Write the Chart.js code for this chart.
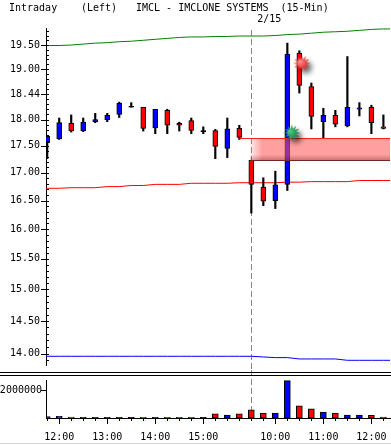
<!DOCTYPE html>
<html>
<head>
<meta charset="utf-8">
<script src="https://cdn.jsdelivr.net/npm/chart.js@4.4.0/dist/chart.umd.min.js"></script>
<style>
  body { margin: 0; background: #fff; }
  #wrap { position: relative; width: 391px; height: 445px; overflow: hidden; }
  #price { position: absolute; left: 0; top: 0; }
  #vol { position: absolute; left: 0; top: 370px; }
</style>
</head>
<body>
<div id="wrap">
  <canvas id="price" width="391" height="370"></canvas>
  <canvas id="vol" width="391" height="75"></canvas>
</div>
<script>
// 15-minute slots, two sessions
const times = ['11:45','12:00','12:15','12:30','12:45','13:00','13:15','13:30','13:45','14:00',
  '14:15','14:30','14:45','15:00','15:15','15:30','15:45','9:30','9:45','10:00',
  '10:15','10:30','10:45','11:00','11:15','11:30','11:45','12:00','12:15'];

const open  = [17.56,17.63,17.93,17.78,17.96,18.00,18.10,18.25,18.24,17.84,18.18,17.93,17.98,17.78,17.79,17.45,17.83,17.23,16.74,16.50,16.79,19.33,18.65,17.96,18.08,17.88,18.21,18.24,17.85];
const high  = [17.70,18.03,18.09,18.03,18.12,18.12,18.34,18.33,18.24,18.20,18.20,17.95,18.03,17.86,17.81,18.03,17.89,17.23,16.91,17.03,19.54,19.38,18.72,18.22,18.18,19.26,18.33,18.28,18.09];
const low   = [17.26,17.62,17.76,17.77,17.94,17.96,18.04,18.24,17.78,17.73,17.73,17.78,17.73,17.73,17.26,17.28,17.62,16.28,16.41,16.36,16.68,18.52,17.82,17.64,17.86,17.86,18.07,17.73,17.82];
const close = [17.68,17.94,17.78,17.95,18.00,18.08,18.32,18.25,17.83,18.20,17.89,17.89,17.79,17.78,17.49,17.82,17.66,16.79,16.49,16.78,19.31,18.67,18.06,18.08,17.91,18.24,18.22,17.94,17.84];
const volume = [110000,120000,60000,55000,55000,50000,55000,50000,50000,55000,50000,50000,50000,45000,
  290000,215000,290000,580000,350000,350000,2670000,870000,650000,430000,350000,215000,215000,200000,70000];

// overlay lines
const upperLine = [19.49,19.49,19.50,19.52,19.54,19.55,19.57,19.58,19.60,19.62,19.64,19.66,19.67,19.67,19.68,19.68,19.69,19.69,19.69,19.70,19.72,19.73,19.75,19.77,19.78,19.79,19.81,19.83,19.84];
const midLine   = [16.72,16.72,16.73,16.73,16.73,16.75,16.75,16.77,16.77,16.79,16.79,16.79,16.81,16.81,16.81,16.81,16.82,16.82,16.82,16.82,16.83,16.83,16.84,16.84,16.84,16.84,16.86,16.86,16.86];
const lowerLine = [13.96,13.96,13.96,13.96,13.96,13.96,13.96,13.96,13.96,13.96,13.96,13.96,13.96,13.96,13.96,13.96,13.96,13.96,13.95,13.94,13.94,13.92,13.92,13.92,13.92,13.90,13.90,13.90,13.90];

// gap window and signals
const gapTop = 17.64, gapBottom = 17.23, gapLineFrom = 16, gapFrom = 17;
const signalX = [21.2, 20.37];
const signalY = [19.12, 17.745];

const dayBreak = 17, dayLabel = '2/15';
const titleParts = [['Intraday', 9], ['(Left)', 81], ['IMCL - IMCLONE SYSTEMS  (15-Min)', 136]];

const yTicks = [14.0,14.5,15.0,15.5,16.0,16.5,17.0,17.5,18.0,18.5,19.0,19.5];
const yTickLabels = ['14.00','14.50','15.00','15.50','16.00','16.50','17.00','17.50','18.00','18.44','19.00','19.50'];
const volTicks = [2000000];
const volTickLabels = ['2000000'];

const FONT = "'DejaVu Sans Mono', monospace";
const X_MIN = -0.1, X_MAX = 28.55;
const Y_MIN = 13.83, Y_MAX = 19.86;
const VOL_MAX = 2720000;

const upColor = '#0000ff', downColor = '#ff0000', flatColor = '#000000';
const candleColor = open.map((o, i) => close[i] > o ? upColor : close[i] < o ? downColor : flatColor);

// minor ticks every 0.1
const yMinor = [];
for (let k = 139; k <= 198; k++) yMinor.push(k / 10);

const bodyData = open.map((o, i) => {
  let a = Math.min(o, close[i]), b = Math.max(o, close[i]);
  if (b - a < 0.015) { a -= 0.01; b += 0.01; }
  return { x: i, y: [a, b] };
});
const wickData = high.map((h, i) => ({ x: i, y: [low[i], h] }));

function lineData(arr) {
  const pts = arr.map((v, i) => ({ x: i, y: v }));
  pts.unshift({ x: X_MIN, y: arr[0] });
  pts.push({ x: X_MAX, y: arr[arr.length - 1] });
  return pts;
}

function starImage(fill, light) {
  const c = document.createElement('canvas');
  c.width = 34; c.height = 34;
  const g = c.getContext('2d');
  const cx = 17, cy = 17, n = 12, ro = 8.5, ri = 4.2;
  g.beginPath();
  for (let k = 0; k < n * 2; k++) {
    const r = k % 2 ? ri : ro;
    const a = Math.PI * k / n - Math.PI / 2;
    const px = cx + r * Math.cos(a), py = cy + r * Math.sin(a);
    if (k) g.lineTo(px, py); else g.moveTo(px, py);
  }
  g.closePath();
  g.shadowColor = 'rgba(0,0,0,0.6)';
  g.shadowBlur = 5; g.shadowOffsetX = 4; g.shadowOffsetY = 4;
  const rg = g.createRadialGradient(cx - 2, cy - 2, 0, cx, cy, ro);
  rg.addColorStop(0, light); rg.addColorStop(1, fill);
  g.fillStyle = rg;
  g.fill();
  return c;
}
const signalStyles = [starImage('#e00000', '#ff9a9a'), starImage('#007030', '#50d090')];

function labelFor(v) {
  const i = yTicks.findIndex(t => Math.abs(t - v) < 1e-6);
  return i >= 0 ? yTickLabels[i] : '';
}

const pricePlugin = {
  id: 'pricePlugin',
  beforeDatasetsDraw(chart) {
    const { ctx, scales: { x } } = chart;
    const px = Math.round(x.getPixelForValue(dayBreak)) + 0.5;
    ctx.save();
    ctx.strokeStyle = '#888'; ctx.lineWidth = 1; ctx.setLineDash([6, 3]);
    ctx.beginPath(); ctx.moveTo(px, 30); ctx.lineTo(px, chart.height); ctx.stroke();
    ctx.restore();
  },
  beforeDatasetDraw(chart, args) {
    if (args.index !== 5) return;
    const { ctx, chartArea, scales: { x, y } } = chart;
    const xL = x.getPixelForValue(gapFrom) - 1, xR = chartArea.right;
    const yT = Math.round(y.getPixelForValue(gapTop)) + 0.5;
    const yB = Math.round(y.getPixelForValue(gapBottom)) + 0.5;
    ctx.save();
    const grad = ctx.createLinearGradient(xL, 0, xL + 12, 0);
    grad.addColorStop(0, 'rgba(255,90,90,0.1)');
    grad.addColorStop(1, 'rgba(255,90,90,0.58)');
    ctx.fillStyle = grad;
    ctx.fillRect(xL, yT, xR - xL, yB - yT);
    const sh = ctx.createLinearGradient(0, yB - 6, 0, yB);
    sh.addColorStop(0, 'rgba(90,0,0,0)');
    sh.addColorStop(1, 'rgba(90,0,0,0.3)');
    ctx.fillStyle = sh;
    ctx.fillRect(xL, yB - 6, xR - xL, 6);
    ctx.lineWidth = 1;
    ctx.strokeStyle = '#ff2020';
    ctx.beginPath(); ctx.moveTo(x.getPixelForValue(gapLineFrom), yT); ctx.lineTo(xR, yT); ctx.stroke();
    ctx.strokeStyle = '#702828';
    ctx.beginPath(); ctx.moveTo(xL, yB); ctx.lineTo(xR, yB); ctx.stroke();
    ctx.restore();
  },
  afterDraw(chart) {
    const { ctx, chartArea, scales: { x, y } } = chart;
    ctx.save();
    ctx.strokeStyle = '#000'; ctx.lineWidth = 1;
    ctx.beginPath();
    const ax = chartArea.left;
    yMinor.forEach(v => {
      const py = Math.round(y.getPixelForValue(v)) + 0.5;
      ctx.moveTo(ax, py); ctx.lineTo(ax + 3, py);
    });
    yTicks.forEach(v => {
      const py = Math.round(y.getPixelForValue(v)) + 0.5;
      ctx.moveTo(ax - 5, py); ctx.lineTo(ax, py);
    });
    ctx.stroke();
    ctx.fillStyle = '#000';
    ctx.font = '10px ' + FONT;
    ctx.textBaseline = 'middle';
    ctx.textAlign = 'left';
    titleParts.forEach(([t, tx]) => ctx.fillText(t, tx, 8));
    ctx.textAlign = 'center';
    ctx.fillText(dayLabel, x.getPixelForValue(dayBreak) + 18, 19.5);
    ctx.restore();
  }
};

new Chart(document.getElementById('price'), {
  type: 'bar',
  data: {
    datasets: [
      { type: 'line', data: lineData(upperLine), borderColor: '#008000', borderWidth: 1, pointRadius: 0, order: 4 },
      { type: 'line', data: lineData(midLine), borderColor: '#ff0000', borderWidth: 1, pointRadius: 0, order: 4 },
      { type: 'line', data: lineData(lowerLine), borderColor: '#0000ff', borderWidth: 1, pointRadius: 0, order: 4 },
      { data: wickData, backgroundColor: '#000', borderWidth: 0, barThickness: 1.5, grouped: false, order: 3 },
      { data: bodyData, backgroundColor: candleColor, borderColor: '#000', borderWidth: 1,
        borderSkipped: false, barThickness: 5, grouped: false, order: 2 },
      { type: 'scatter', data: signalX.map((v, i) => ({ x: v, y: signalY[i] })),
        pointStyle: signalStyles, pointRadius: 8, order: 1 }
    ]
  },
  options: {
    responsive: false,
    animation: false,
    devicePixelRatio: 1,
    events: [],
    layout: { autoPadding: false, padding: { top: 28, bottom: 5, left: 0, right: 1 } },
    plugins: { legend: { display: false }, tooltip: { enabled: false } },
    scales: {
      x: { type: 'linear', min: X_MIN, max: X_MAX, offset: false, display: false },
      y: {
        type: 'logarithmic', min: Y_MIN, max: Y_MAX, bounds: 'data',
        afterFit(s) { s.width = 46; },
        afterBuildTicks(s) { s.ticks = yMinor.map(v => ({ value: v })); },
        grid: { drawOnChartArea: false, drawTicks: true, tickLength: 6, tickColor: 'rgba(0,0,0,0)' },
        border: { display: true, color: '#000', width: 1 },
        ticks: { autoSkip: false, padding: 0, color: '#000', font: { family: FONT, size: 10, lineHeight: 1 },
          callback: (v) => labelFor(v) }
      }
    }
  },
  plugins: [pricePlugin]
});

const hourSlots = times.map((t, i) => t.endsWith(':00') ? i : -1).filter(i => i >= 0);

const volPlugin = {
  id: 'volPlugin',
  beforeDatasetsDraw(chart) {
    const { ctx, chartArea, scales: { x } } = chart;
    const px = Math.round(x.getPixelForValue(dayBreak)) + 0.5;
    ctx.save();
    ctx.strokeStyle = '#888'; ctx.lineWidth = 1; ctx.setLineDash([6, 3]);
    ctx.beginPath(); ctx.moveTo(px, 0); ctx.lineTo(px, chartArea.bottom); ctx.stroke();
    ctx.restore();
  },
  afterDraw(chart) {
    const { ctx, chartArea, scales: { x } } = chart;
    ctx.save();
    ctx.strokeStyle = '#000'; ctx.lineWidth = 1;
    ctx.beginPath();
    ctx.moveTo(0, 2.5); ctx.lineTo(chart.width, 2.5);
    ctx.moveTo(0, 5.5); ctx.lineTo(chart.width, 5.5);
    times.forEach((t, i) => {
      const px = Math.round(x.getPixelForValue(i)) + 0.5;
      const len = hourSlots.includes(i) ? 6 : 3;
      ctx.moveTo(px, chartArea.bottom); ctx.lineTo(px, chartArea.bottom + len);
    });
    ctx.stroke();
    ctx.strokeStyle = '#d8d8d8';
    ctx.beginPath(); ctx.moveTo(0, 73.5); ctx.lineTo(chart.width, 73.5); ctx.stroke();
    ctx.restore();
  }
};

new Chart(document.getElementById('vol'), {
  type: 'bar',
  data: {
    datasets: [
      { data: volume.map((v, i) => ({ x: i, y: v })), backgroundColor: candleColor, borderColor: '#000',
        borderWidth: 1, borderSkipped: false, barThickness: 6, grouped: false }
    ]
  },
  options: {
    responsive: false,
    animation: false,
    devicePixelRatio: 1,
    events: [],
    layout: { autoPadding: false, padding: { top: 10, bottom: 0, left: 0, right: 1 } },
    plugins: { legend: { display: false }, tooltip: { enabled: false } },
    scales: {
      x: {
        type: 'linear', min: X_MIN, max: X_MAX, offset: false,
        afterFit(s) { s.height = 27; },
        afterBuildTicks(s) { s.ticks = hourSlots.map(i => ({ value: i })); },
        grid: { drawOnChartArea: false, drawTicks: false },
        border: { display: true, color: '#000' },
        ticks: { autoSkip: false, maxRotation: 0, padding: 1, color: '#000',
          font: { family: FONT, size: 10, lineHeight: 3.6 }, callback: (v) => times[v] }
      },
      y: {
        min: 0, max: VOL_MAX,
        afterFit(s) { s.width = 46; },
        afterBuildTicks(s) { s.ticks = volTicks.map(v => ({ value: v })); },
        grid: { drawOnChartArea: false, tickLength: 5, tickColor: '#000' },
        border: { display: true, color: '#000' },
        ticks: { padding: -1, color: '#000', font: { family: FONT, size: 10 },
          callback: (v, i) => volTickLabels[i] }
      }
    }
  },
  plugins: [volPlugin]
});
</script>
</body>
</html>
